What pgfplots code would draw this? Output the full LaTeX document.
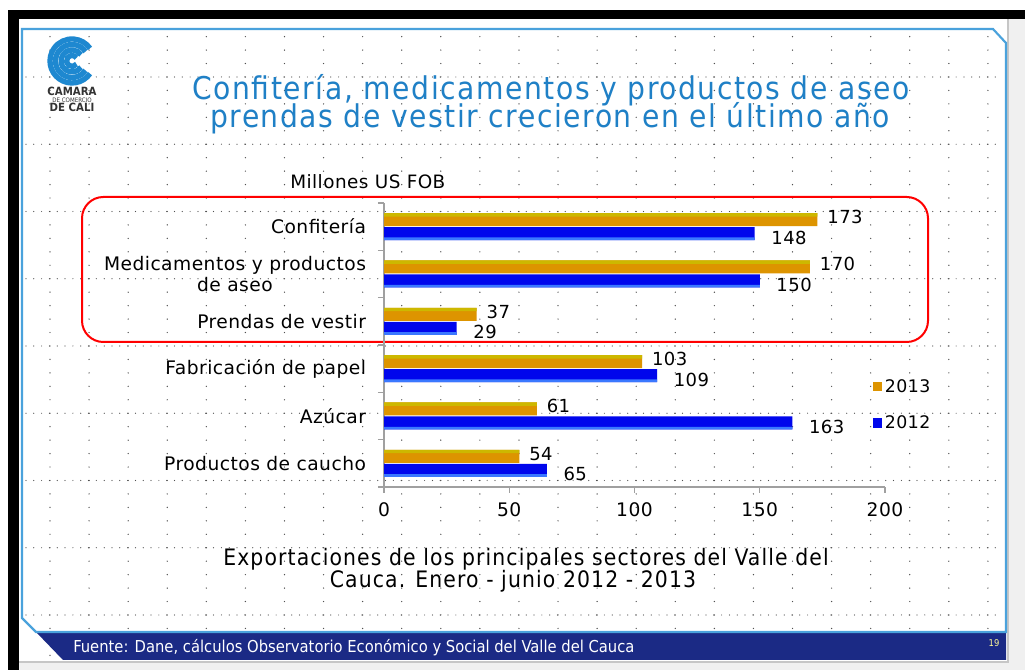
\documentclass[border=0pt]{standalone}
\usepackage{fontspec}
\setmainfont{DejaVu Sans}[LetterSpace=2.5]
\newfontfamily\condfont{DejaVu Sans Condensed}
\newfontfamily\condls{DejaVu Sans Condensed}[LetterSpace=5]
\usepackage{pgfplots}
\usetikzlibrary{calc}
\pgfplotsset{compat=1.18}
\definecolor{titleblue}{HTML}{1F80C6}
\definecolor{frameblue}{HTML}{4AA2DC}
\definecolor{navy}{HTML}{1B2A85}
\definecolor{axgray}{HTML}{A0A0A0}
\definecolor{dotc}{HTML}{505050}
\definecolor{otop}{HTML}{CDB800}
\definecolor{omain}{HTML}{DD9400}
\definecolor{bmain}{HTML}{0006EC}
\definecolor{bbot}{HTML}{3A78FF}
\definecolor{logoblue}{HTML}{1E88D0}
\begin{document}
\begin{tikzpicture}[x=0.75pt,y=0.75pt]
\path[use as bounding box] (0,0) rectangle (1025,670);
\begin{scope}[shift={(0,670)}, yscale=-1]
\fill[white] (0,0) rectangle (1025,670);
\fill[gray!12] (1008,19) rectangle (1025,670);
\fill[gray!12] (19,662) rectangle (1025,670);
\fill[black] (8,10) rectangle (1025,19);
\fill[black] (8,10) rectangle (19,670);
\draw[gray!45, line width=0.8pt] (19,662) -- (1008,662) -- (1008,19);
% grid dots
\foreach \r in {-3,...,43}{
  \foreach \k in {0,...,24}{
    \fill[dotc] ({50+39.08*\k},{77+13.45*\r}) circle (0.7);
  }
}
\foreach \r in {0,5,...,40}{
  \foreach \j in {0,...,124}{
    \fill[dotc] ({26+7.816*\j},{77+13.45*\r}) circle (0.6);
  }
}
% frame
\fill[navy] (36,632) -- (1006,632) -- (1006,660) -- (63,660) -- cycle;
\draw[frameblue, line width=1.6pt] (22,29) -- (993,29) -- (1006,43) -- (1006,632) -- (36,632) -- (22,618) -- cycle;
% logo
\foreach \rr in {5.5,11,16.5,22}{
  \draw[logoblue, line width=4pt] ($(72,61)+(35:\rr*0.75pt)$) arc[start angle=35, end angle=325, radius=\rr*0.75pt];
}
\node[font=\condfont\bfseries\fontsize{8.5}{9}\selectfont, text=black!80, anchor=base, inner sep=0pt] at (72,96) {CAMARA};
\node[font=\condfont\fontsize{4.6}{5}\selectfont, text=black!80, anchor=base, inner sep=0pt] at (72,102.5) {DE COMERCIO};
\node[font=\condfont\bfseries\fontsize{8.5}{9}\selectfont, text=black!80, anchor=base, inner sep=0pt] at (72,112) {DE CALI};
% title
\node[font=\condls\fontsize{23.5}{25}\selectfont, text=titleblue, anchor=base, inner sep=0pt] at (551,100) {Confitería, medicamentos y productos de aseo};
\node[font=\condls\fontsize{23.5}{25}\selectfont, text=titleblue, anchor=base, inner sep=0pt] at (550,128) {prendas de vestir crecieron en el último año};
% unit label
\node[font=\fontsize{13.8}{16}\selectfont, anchor=base west, inner sep=0pt] at (290,189) {Millones US FOB};
% red box
\draw[red, line width=1.5pt, rounded corners=16pt] (82,197) rectangle (928,342);
% caption
\node[font=\condls\fontsize{17}{19}\selectfont, anchor=base, inner sep=0pt] at (526,566) {Exportaciones de los principales sectores del Valle del};
\node[font=\condls\fontsize{17}{19}\selectfont, anchor=base, inner sep=0pt] at (513,588) {Cauca. Enero - junio 2012 - 2013};
% footer text
\node[font=\condfont\fontsize{12.3}{13}\selectfont, text=white, anchor=base west, inner sep=0pt] at (73,653) {Fuente: Dane, cálculos Observatorio Económico y Social del Valle del Cauca};
\node[font=\condfont\fontsize{7}{8}\selectfont, text=yellow!40!white, anchor=base] at (994,647) {19};
\end{scope}
\begin{axis}[
  at={(288pt,137.25pt)}, anchor=south west,
  scale only axis, width=375.75pt, height=213pt,
  xmin=0, xmax=200, ymin=-0.5, ymax=5.5,
  xbar, bar width=9.75pt,
  clip=false,
  axis x line*=bottom, axis y line*=left,
  axis line style={draw=axgray, line width=1pt},
  tick style={draw=axgray, line width=1pt},
  tick align=outside,
  major tick length=4.5pt,
  xtick={0,50,100,150,200},
  ytick={-0.5,0.5,1.5,2.5,3.5,4.5,5.5},
  yticklabels={},
  extra y ticks={0,1,2,3,4,5},
  extra y tick labels={Productos de caucho,Azúcar,Fabricación de papel,Prendas de vestir,{Medicamentos y productos\\de aseo},Confitería},
  extra y tick style={major tick length=0pt, tick style={draw=none}},
  yticklabel style={font=\fontsize{14}{16}\selectfont, align=center, xshift=-10pt},
  xticklabel style={font=\fontsize{14}{16}\selectfont, yshift=-3.5pt},
  /pgf/number format/assume math mode=true,
  legend image code/.code={\fill[#1] (0pt,-3.4pt) rectangle (6.8pt,3.4pt);},
  legend style={at={(0.976,0.289)}, anchor=west, draw=none, fill=none, font=\fontsize{13}{15}\selectfont, row sep=12pt, inner xsep=0pt},
  legend cell align=left,
]
\addplot[xbar, bar shift=5.25pt, fill=omain, draw=none,
  nodes near coords, every node near coord/.append style={anchor=west, xshift=4pt, yshift=2pt, font=\fontsize{13.5}{15}\selectfont, text=black}]
  coordinates {(173,5) (170,4) (37,3) (103,2) (61,1) (54,0)};
\addplot[xbar, bar shift=-5.25pt, fill=bmain, draw=none,
  nodes near coords, every node near coord/.append style={anchor=west, xshift=9pt, yshift=-3pt, font=\fontsize{13.5}{15}\selectfont, text=black}]
  coordinates {(148,5) (150,4) (29,3) (109,2) (163,1) (65,0)};
\addplot[xbar, bar shift=8.85pt, bar width=2.55pt, fill=otop, draw=none, forget plot]
  coordinates {(173,5) (170,4) (37,3) (103,2) (61,1) (54,0)};
\addplot[xbar, bar shift=-9.1pt, bar width=2.05pt, fill=bbot, draw=none, forget plot]
  coordinates {(148,5) (150,4) (29,3) (109,2) (163,1) (65,0)};
\legend{2013,2012}
\end{axis}
\end{tikzpicture}
\end{document}
